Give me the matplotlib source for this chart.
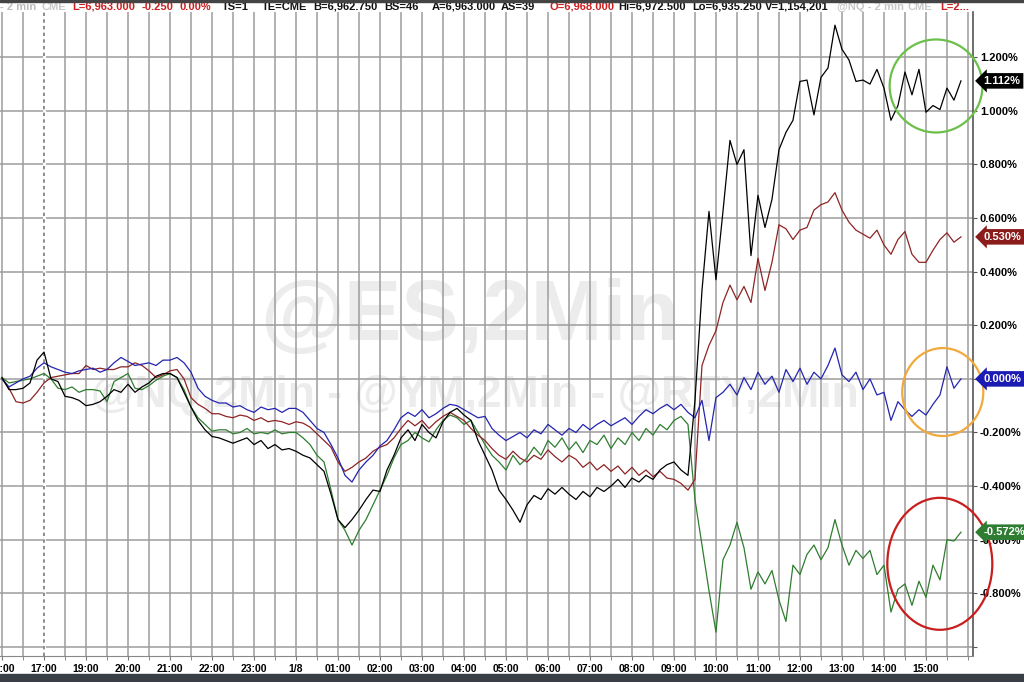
import numpy as np
import matplotlib.pyplot as plt
import matplotlib.transforms as mtransforms
from matplotlib.patches import Ellipse, Rectangle

plt.rcParams['font.family'] = ['Liberation Sans', 'DejaVu Sans']

# % change, 10-minute samples starting 16:00 (session time, 17:00-18:00 break removed)
black = [0.005, -0.04, -0.04, -0.035, -0.015, 0.07, 0.10, 0.00, -0.01, -0.065,
         -0.07, -0.08, -0.10, -0.095, -0.085, -0.065, -0.04, -0.05, -0.02, -0.05,
         -0.03, -0.015, 0.01, 0.02, 0.02, 0.005, -0.05, -0.105, -0.155, -0.19,
         -0.215, -0.22, -0.23, -0.24, -0.23, -0.22, -0.245, -0.23, -0.26, -0.245,
         -0.265, -0.26, -0.27, -0.285, -0.295, -0.32, -0.345, -0.43, -0.525, -0.555,
         -0.525, -0.49, -0.45, -0.415, -0.42, -0.34, -0.285, -0.22, -0.19, -0.23,
         -0.17, -0.20, -0.22, -0.16, -0.125, -0.11, -0.135, -0.155, -0.23, -0.285,
         -0.34, -0.415, -0.45, -0.49, -0.535, -0.47, -0.435, -0.45, -0.41, -0.43,
         -0.405, -0.43, -0.45, -0.42, -0.44, -0.405, -0.42, -0.40, -0.375, -0.405,
         -0.37, -0.385, -0.36, -0.375, -0.34, -0.32, -0.31, -0.34, -0.36, -0.08,
         0.33, 0.625, 0.37, 0.625, 0.89, 0.80, 0.855, 0.46, 0.685, 0.565,
         0.67, 0.855, 0.92, 0.965, 1.11, 1.115, 0.985, 1.125, 1.16, 1.32,
         1.23, 1.19, 1.11, 1.115, 1.10, 1.155, 1.085, 0.965, 1.02, 1.145,
         1.06, 1.155, 0.995, 1.02, 1.005, 1.085, 1.04, 1.112]

red = [0.00, -0.035, -0.085, -0.09, -0.08, -0.05, -0.015, 0.005, 0.01, 0.015,
       0.02, 0.02, 0.05, 0.035, 0.04, 0.035, 0.035, 0.045, 0.045, 0.06,
       0.05, 0.03, 0.005, 0.015, 0.03, 0.035, 0.00, -0.07, -0.095, -0.11,
       -0.13, -0.13, -0.14, -0.145, -0.135, -0.14, -0.155, -0.145, -0.16, -0.155,
       -0.16, -0.17, -0.16, -0.165, -0.18, -0.205, -0.23, -0.255, -0.31, -0.345,
       -0.33, -0.31, -0.295, -0.27, -0.255, -0.245, -0.22, -0.185, -0.155, -0.175,
       -0.155, -0.185, -0.16, -0.14, -0.125, -0.14, -0.155, -0.185, -0.21, -0.23,
       -0.26, -0.285, -0.30, -0.27, -0.295, -0.31, -0.285, -0.30, -0.265, -0.29,
       -0.31, -0.285, -0.30, -0.33, -0.31, -0.34, -0.32, -0.345, -0.325, -0.355,
       -0.33, -0.36, -0.34, -0.365, -0.345, -0.37, -0.375, -0.39, -0.415, -0.375,
       0.05, 0.125, 0.18, 0.285, 0.35, 0.295, 0.345, 0.285, 0.45, 0.33,
       0.435, 0.575, 0.56, 0.52, 0.555, 0.565, 0.63, 0.65, 0.66, 0.695,
       0.63, 0.585, 0.555, 0.54, 0.525, 0.555, 0.50, 0.465, 0.52, 0.55,
       0.465, 0.435, 0.435, 0.48, 0.52, 0.545, 0.51, 0.53]

blue = [0.00, -0.03, -0.015, 0.00, 0.01, 0.04, 0.06, 0.045, 0.035, 0.025,
        0.02, 0.03, 0.035, 0.04, 0.025, 0.035, 0.06, 0.08, 0.065, 0.05,
        0.055, 0.06, 0.05, 0.07, 0.07, 0.08, 0.06, 0.025, -0.035, -0.065,
        -0.08, -0.09, -0.09, -0.105, -0.10, -0.115, -0.125, -0.105, -0.115, -0.11,
        -0.125, -0.11, -0.11, -0.125, -0.155, -0.185, -0.20, -0.245, -0.295, -0.36,
        -0.385, -0.34, -0.31, -0.285, -0.25, -0.23, -0.19, -0.145, -0.125, -0.14,
        -0.115, -0.145, -0.13, -0.11, -0.095, -0.10, -0.115, -0.13, -0.145, -0.14,
        -0.185, -0.21, -0.23, -0.215, -0.20, -0.22, -0.19, -0.205, -0.17, -0.19,
        -0.21, -0.185, -0.20, -0.17, -0.19, -0.17, -0.155, -0.175, -0.16, -0.145,
        -0.17, -0.14, -0.115, -0.13, -0.11, -0.095, -0.115, -0.095, -0.125, -0.145,
        -0.08, -0.23, -0.07, -0.05, -0.02, -0.06, 0.005, -0.04, 0.025, -0.02,
        0.01, -0.05, 0.035, -0.01, 0.04, -0.02, 0.025, 0.00, 0.05, 0.115,
        0.015, -0.01, 0.025, -0.04, 0.00, -0.06, -0.05, -0.155, -0.085, -0.115,
        -0.14, -0.115, -0.135, -0.095, -0.06, 0.045, -0.035, 0.00]

green = [0.005, -0.015, -0.01, -0.005, 0.00, 0.01, 0.02, 0.00, -0.035, -0.04,
         -0.03, -0.05, -0.04, -0.04, -0.045, -0.085, -0.01, 0.005, 0.02, -0.035,
         -0.04, -0.025, -0.005, 0.01, 0.02, 0.005, -0.04, -0.105, -0.145, -0.17,
         -0.195, -0.19, -0.19, -0.205, -0.20, -0.185, -0.205, -0.20, -0.205, -0.19,
         -0.205, -0.20, -0.20, -0.22, -0.245, -0.285, -0.31, -0.415, -0.525, -0.565,
         -0.62, -0.565, -0.525, -0.47, -0.415, -0.36, -0.295, -0.245, -0.23, -0.20,
         -0.22, -0.235, -0.19, -0.155, -0.135, -0.145, -0.17, -0.155, -0.20, -0.245,
         -0.285, -0.31, -0.34, -0.285, -0.32, -0.295, -0.255, -0.285, -0.23, -0.255,
         -0.22, -0.265, -0.235, -0.275, -0.23, -0.245, -0.21, -0.26, -0.22, -0.245,
         -0.20, -0.23, -0.185, -0.21, -0.17, -0.19, -0.155, -0.14, -0.17, -0.45,
         -0.62, -0.79, -0.945, -0.675, -0.62, -0.535, -0.63, -0.785, -0.72, -0.765,
         -0.715, -0.825, -0.905, -0.695, -0.73, -0.655, -0.62, -0.675, -0.63, -0.525,
         -0.62, -0.695, -0.64, -0.67, -0.64, -0.73, -0.695, -0.87, -0.785, -0.765,
         -0.845, -0.755, -0.815, -0.695, -0.75, -0.60, -0.605, -0.572]

hour_labels = ['16:00', '17:00', '19:00', '20:00', '21:00', '22:00', '23:00', '1/8',
               '01:00', '02:00', '03:00', '04:00', '05:00', '06:00', '07:00', '08:00',
               '09:00', '10:00', '11:00', '12:00', '13:00', '14:00', '15:00']

t = np.arange(len(black)) / 6.0   # hours on the session axis

fig = plt.figure(figsize=(10.24, 6.82), dpi=100)
fig.patch.set_facecolor('white')
ax = fig.add_axes([0, 26 / 682, 973 / 1024, 644 / 682])
ax.set_facecolor('none')

# watermarks behind the axes
fig.text(470 / 1024, 1 - 340 / 682, '@ES,2Min', fontsize=62, fontweight='bold',
         color='#ececec', ha='center', va='baseline', zorder=-1)
fig.text(475 / 1024, 1 - 407 / 682, '@NQ,2Min - @YM,2Min - @RTY,2Min', fontsize=32,
         fontweight='bold', color='#ececec', ha='center', va='baseline', zorder=-1)

ax.set_xlim(-0.048, 23.12)
ax.set_ylim(-1.034, 1.369)

ax.set_xticks(range(len(hour_labels)), hour_labels)
ax.set_xticks(np.arange(0, 23.01, 0.5), minor=True)
yt = np.round(np.arange(-1.0, 1.21, 0.2), 3)
ax.set_yticks(yt, ['' if v < -0.9 else f'{v:.3f}%' for v in yt])
ax.yaxis.tick_right()

ax.grid(which='both', color='#9c9c9c', lw=1.1)
ax.tick_params(axis='x', which='both', length=3, color='#777777', pad=3, labelsize=7.5)
ax.tick_params(axis='y', length=3, color='#555555', pad=2, labelsize=8)
for lab in ax.get_xticklabels() + ax.get_yticklabels():
    lab.set_fontweight('bold')

for s in ['left', 'top']:
    ax.spines[s].set_visible(False)
ax.spines['right'].set_color('#555555')
ax.spines['right'].set_linewidth(1.2)
ax.spines['bottom'].set_color('#888888')

# session break marker at 17:00
ax.axvline(1, color='white', lw=2, zorder=1.6)
ax.axvline(1, color='#7a7a7a', lw=1.2, ls=(0, (2, 2)), zorder=1.7)

series = [(green, '#2f7d2f'), (red, '#8e2424'), (blue, '#2424b0'), (black, '#000000')]
for vals, col in series:
    ax.plot(t, vals, color=col, lw=0.9, zorder=2)

# last-value tags
trans = mtransforms.blended_transform_factory(ax.transAxes, ax.transData)
for vals, col in [(black, '#000000'), (red, '#8b1c1c'), (blue, '#1c1cb4'), (green, '#2e7d32')]:
    v = vals[-1]
    ax.text(1.011, v, f'{v:.3f}%', transform=trans, color='white', fontsize=8,
            fontweight='bold', va='center', ha='left', clip_on=False, zorder=5,
            bbox=dict(boxstyle='larrow,pad=0.25', fc=col, ec='none'))

# hand-drawn highlight circles
for xy, w, h, col in [((22.24, 1.093), 2.21, 0.347, '#6cc04a'),
                      ((22.40, -0.049), 1.93, 0.328, '#f2a93b'),
                      ((22.33, -0.69), 2.50, 0.4925, '#c81e1e')]:
    ax.add_patch(Ellipse(xy, w, h, fill=False, ec=col, lw=1.6, clip_on=False, zorder=4))

# header line
header = [(0, '- 2 min', '#bdbdbd'), (41, 'CME', '#c8c8c8'), (72, 'L=6,963.000', '#cc2020'),
          (142, '-0.250', '#cc2020'), (179, '0.00%', '#cc2020'), (222, 'TS=1', '#111111'),
          (262, 'TE=CME', '#111111'), (313, 'B=6,962.750', '#111111'), (384, 'BS=46', '#111111'),
          (432, 'A=6,963.000', '#111111'), (501, 'AS=39', '#111111'),
          (549, 'O=6,968.000', '#cc2020'), (618, 'Hi=6,972.500', '#111111'),
          (692, 'Lo=6,935.250', '#111111'), (765, 'V=1,154,201', '#111111'),
          (837, '@NQ - 2 min', '#c8c8c8'), (908, 'CME', '#c8c8c8'), (940, 'L=2...', '#cc2020')]
for xp, txt, col in header:
    fig.text(xp / 1024, 1 - 6.5 / 682, txt, fontsize=8, fontweight='bold', color=col,
             ha='left', va='center')

fig.add_artist(Rectangle((0, 1 - 1.5 / 682), 1, 1.5 / 682, transform=fig.transFigure,
                         color='#444444', zorder=6))
fig.add_artist(Rectangle((0, 0), 1, 8 / 682, transform=fig.transFigure,
                         color='#3a3e47', zorder=6))

fig.savefig('out.png', dpi=100)
